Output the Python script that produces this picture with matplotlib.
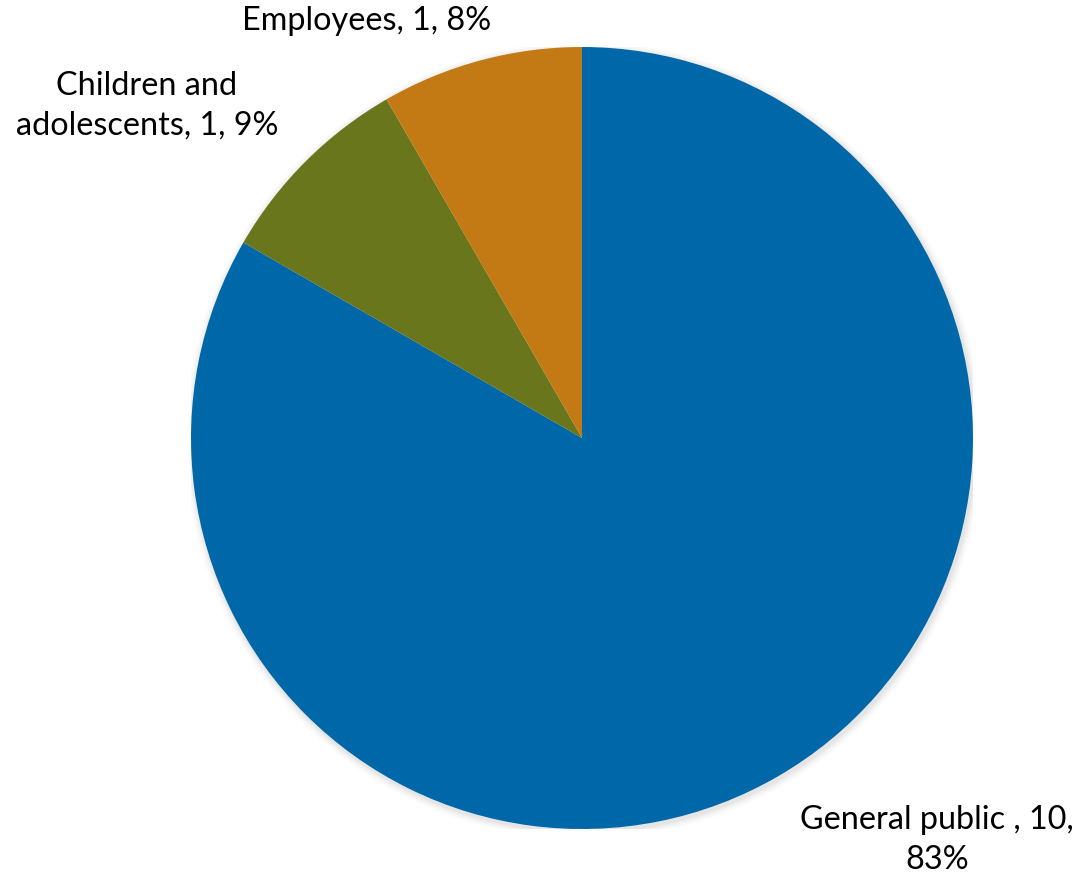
import matplotlib
matplotlib.use("Agg")
from matplotlib import pyplot as plt
from matplotlib.patches import Circle

# data
categories = ["General public ", "Children and adolescents", "Employees"]
counts = [10, 1, 1]
pctLabels = ["83%", "9%", "8%"]          # as printed on the chart (Excel rounding)
colors = ["#0067A9", "#6A761C", "#C37A15"]

plt.rcParams['font.family'] = ['Lato', 'DejaVu Sans']

W, H = 1080, 877
fig = plt.figure(figsize=(W / 100, H / 100), dpi=100)

# pie centre (582, 438) px, radius 391 px
cx, cy, r = 582, 438, 391
ax = fig.add_axes([(cx - r) / W, (H - cy - r) / H, 2 * r / W, 2 * r / H])
ax.set_xlim(-1, 1)
ax.set_ylim(-1, 1)
ax.set_aspect('equal')
ax.axis('off')

# soft shadow
for i, a in enumerate([0.03, 0.025, 0.02, 0.015, 0.01]):
    ax.add_patch(Circle((0.004, -0.006), 1 + 0.004 * (i + 1), color='black',
                        alpha=a, lw=0, zorder=0))

ax.pie(counts, colors=colors, startangle=90, counterclock=False, radius=1,
       wedgeprops=dict(linewidth=0), frame=False)
ax.set_xlim(-1, 1)
ax.set_ylim(-1, 1)

labelText = [
    f"{categories[0]}, {counts[0]},\n{pctLabels[0]}",
    f"Children and\nadolescents, {counts[1]}, {pctLabels[1]}",
    f"{categories[2]}, {counts[2]}, {pctLabels[2]}",
]
labelPos = [(0.908, -1.028), (-1.113, 0.850), (-0.552, 1.066)]

for txt, (x, y) in zip(labelText, labelPos):
    ax.text(x, y, txt, ha='center', va='center', fontsize=23.3,
            color='black', linespacing=1.42, clip_on=False)

fig.savefig("out.png", dpi=100)
